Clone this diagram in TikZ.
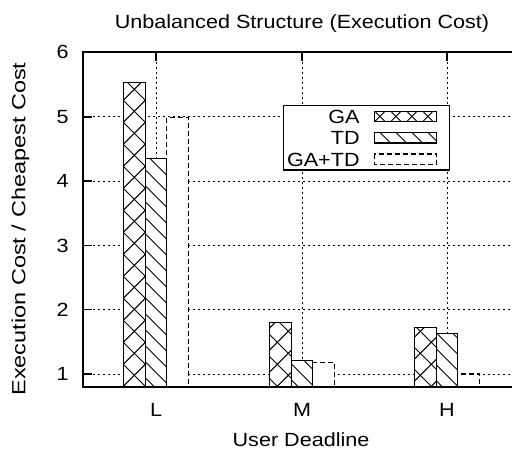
\documentclass[tikz,border=0pt]{standalone}
\usepackage{fontspec}
\setmainfont{Liberation Sans}[FakeStretch=1.13]
\newfontfamily\ylfont{Liberation Sans}[FakeStretch=1.23]
\newcommand\hatchbs[6]{% x1,y1,x2,y2,d,phase : lines x-y=c
  \begin{scope}
    \clip (#1,#2) rectangle (#3,#4);
    \pgfmathtruncatemacro\kmin{floor((#1-#4-#6)/#5)-1}
    \pgfmathtruncatemacro\kmax{ceil((#3-#2-#6)/#5)+1}
    \foreach \k in {\kmin,...,\kmax}{%
      \pgfmathsetmacro\cc{#6+\k*#5}%
      \pgfmathsetmacro\xa{#2+\cc}%
      \pgfmathsetmacro\xb{#4+\cc}%
      \draw[hatch] (\xa,#2) -- (\xb,#4);}
  \end{scope}}
\newcommand\hatchfs[6]{% x1,y1,x2,y2,d,phase : lines x+y=c
  \begin{scope}
    \clip (#1,#2) rectangle (#3,#4);
    \pgfmathtruncatemacro\kmin{floor((#1+#2-#6)/#5)-1}
    \pgfmathtruncatemacro\kmax{ceil((#3+#4-#6)/#5)+1}
    \foreach \k in {\kmin,...,\kmax}{%
      \pgfmathsetmacro\cc{#6+\k*#5}%
      \pgfmathsetmacro\xa{\cc-#2}%
      \pgfmathsetmacro\xb{\cc-#4}%
      \draw[hatch] (\xa,#2) -- (\xb,#4);}
  \end{scope}}
\newcommand\gabar[3]{% x1,x2,top
  \fill[white] (#1,#3) rectangle (#2,387);
  \hatchbs{#1}{#3}{#2}{387}{22}{1}
  \hatchfs{#1}{#3}{#2}{387}{22}{3.6}
  \draw[barline] (#1,387) |- (#2,#3) -- (#2,387);}
\newcommand\tdbar[3]{%
  \fill[white] (#1,#3) rectangle (#2,387);
  \hatchbs{#1}{#3}{#2}{387}{16}{7.5}
  \draw[barline] (#1,387) |- (#2,#3) -- (#2,387);}
\newcommand\gtbar[3]{%
  \fill[white] (#1,#3) rectangle (#2,387);
  \draw[dashbar] (#1,387) |- (#2,#3) -- (#2,387);}
\begin{document}
\begin{tikzpicture}[x=0.5pt,y=-0.5pt,
  lbl/.style={font=\fontsize{9.55}{11}\selectfont, inner sep=0pt},
  gridline/.style={line width=0.5pt, dash pattern=on 1pt off 1.5pt},
  barline/.style={line width=0.6pt},
  dashbar/.style={line width=0.6pt, dash pattern=on 2.5pt off 1.5pt},
  hatch/.style={line width=0.45pt},
  frame/.style={line width=1pt},
  tickline/.style={line width=0.8pt}]
\useasboundingbox (0,0) rectangle (512,452);
\fill[white] (0,0) rectangle (512,452);
\clip (0,0) rectangle (512,452);
% grid
\foreach \yy in {116.7,181,245.3,309.6,374}
  \draw[gridline] (83,\yy) -- (515,\yy);
\foreach \xx in {156,302,447}
  \draw[gridline] (\xx,52) -- (\xx,387);
% bars L
\gabar{123.5}{145.2}{82.5}
\tdbar{145.2}{166.8}{158.7}
\gtbar{166.8}{188.5}{117.7}
% bars M
\gabar{269.5}{291.2}{322.3}
\tdbar{291.2}{312.8}{360.7}
\gtbar{312.8}{334.5}{362.3}
% bars H
\gabar{414.5}{436.2}{327.3}
\tdbar{436.2}{457.8}{333.3}
\gtbar{457.8}{479.5}{374}
% frame
\draw[frame] (520,52) -- (83,52) -- (83,387) -- (520,387);
% ticks
\foreach \yy in {116.7,181,245.3,309.6,374}
  \draw[tickline] (83,\yy) -- (92,\yy);
\foreach \xx in {156,302,447}
  \draw[tickline] (\xx,52) -- (\xx,61);
% legend
\fill[white] (283.3,105.7) rectangle (449.3,170);
\draw[barline] (283.3,105.7) rectangle (449.3,170);
\fill[white] (374.3,111.5) rectangle (436.7,121.5);
\hatchbs{374.3}{111.5}{436.7}{121.5}{16}{7.5}
\hatchfs{374.3}{111.5}{436.7}{121.5}{16}{0.3}
\draw[barline] (374.3,111.5) rectangle (436.7,121.5);
\hatchbs{374.3}{132.5}{436.7}{143}{16}{7.5}
\draw[barline] (374.3,132.5) rectangle (436.7,143);
\draw[dashbar] (374.3,154) rectangle (436.7,164.5);
\node[lbl, anchor=base east] (leg1) at (360,123.3) {GA};
\node[lbl, anchor=base east] (leg2) at (360,144.6) {TD};
\node[lbl, anchor=base east] (leg3) at (360,166) {GA+TD};
% tick labels
\node[lbl, anchor=base east] (y6) at (69,58.8) {6};
\node[lbl, anchor=base east] (y5) at (69,123.5) {5};
\node[lbl, anchor=base east] (y4) at (69,187.8) {4};
\node[lbl, anchor=base east] (y3) at (69,252.1) {3};
\node[lbl, anchor=base east] (y2) at (69,316.4) {2};
\node[lbl, anchor=base east] (y1) at (69,380.8) {1};
\node[lbl, anchor=base] (xl) at (156,416) {L};
\node[lbl, anchor=base] (xm) at (302,416) {M};
\node[lbl, anchor=base] (xh) at (447,416) {H};
% titles
\node[lbl, anchor=base] (title) at (302,28.5) {Unbalanced Structure (Execution Cost)};
\node[lbl, anchor=base] (xlabel) at (301,446.5) {User Deadline};
\node[lbl, font=\ylfont\fontsize{9.55}{11}\selectfont, anchor=base, rotate=90] (ylabel) at (25.4,229) {Execution Cost / Cheapest Cost};
\end{tikzpicture}
\end{document}
